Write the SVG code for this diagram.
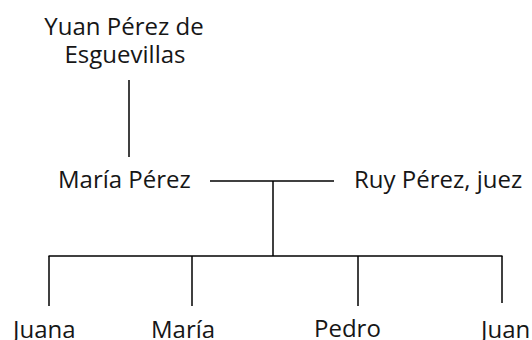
<svg xmlns="http://www.w3.org/2000/svg" width="532" height="340" viewBox="0 0 532 340">
<style>
text{font-family:"Open Sans","Noto Sans","DejaVu Sans",sans-serif;font-size:24px;fill:#161616}
.c{text-anchor:middle}
line{stroke:#000;stroke-width:1.5;fill:none}
</style>
<rect width="532" height="340" fill="#fff"/>
<g id="connectors">
<line x1="129" y1="80" x2="129" y2="157"/>
<line x1="210" y1="181" x2="334" y2="181"/>
<line x1="273" y1="181" x2="273" y2="256"/>
<line x1="48.5" y1="256" x2="502.5" y2="256"/>
<line x1="49" y1="256" x2="49" y2="306"/>
<line x1="192" y1="256" x2="192" y2="306"/>
<line x1="358" y1="256" x2="358" y2="306"/>
<line x1="502" y1="256" x2="502" y2="303"/>
</g>
<g id="yuan"><text class="c" x="124" y="35">Yuan Pérez de<tspan x="125" y="63">Esguevillas</tspan></text></g>
<g id="maria-perez"><text x="58" y="188">María Pérez</text></g>
<g id="ruy-perez"><text x="354" y="188">Ruy Pérez, juez</text></g>
<g id="juana"><text x="13" y="338">Juana</text></g>
<g id="maria"><text x="151" y="338">María</text></g>
<g id="pedro"><text x="314" y="337">Pedro</text></g>
<g id="juan"><text x="481" y="338">Juan</text></g>
</svg>
